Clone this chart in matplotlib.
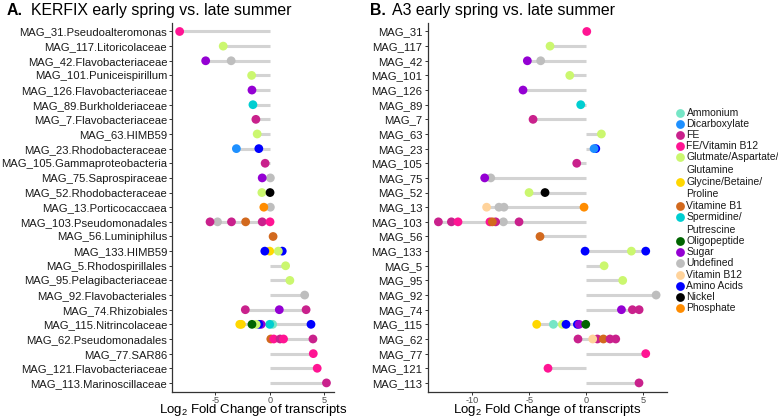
import matplotlib
matplotlib.use('Agg')
import matplotlib.pyplot as plt
import numpy as np

plt.rcParams['font.family'] = ['Liberation Sans', 'DejaVu Sans']
plt.rcParams['axes.unicode_minus'] = False
plt.rcParams['mathtext.fontset'] = 'custom'
plt.rcParams['mathtext.rm'] = 'Liberation Sans'
plt.rcParams['mathtext.it'] = 'Liberation Sans:italic'
plt.rcParams['mathtext.bf'] = 'Liberation Sans:bold'

# ---------------- data ----------------
mag_ids = ['MAG_31', 'MAG_117', 'MAG_42', 'MAG_101', 'MAG_126', 'MAG_89', 'MAG_7',
           'MAG_63', 'MAG_23', 'MAG_105', 'MAG_75', 'MAG_52', 'MAG_13', 'MAG_103',
           'MAG_56', 'MAG_133', 'MAG_5', 'MAG_95', 'MAG_92', 'MAG_74', 'MAG_115',
           'MAG_62', 'MAG_77', 'MAG_121', 'MAG_113']
a_taxa = ['Pseudoalteromonas', 'Litoricolaceae', 'Flavobacteriaceae', 'Puniceispirillum',
          'Flavobacteriaceae', 'Burkholderiaceae', 'Flavobacteriaceae', 'HIMB59',
          'Rhodobacteraceae', 'Gammaproteobacteria', 'Saprospiraceae', 'Rhodobacteraceae',
          'Porticocaccaea', 'Pseudomonadales', 'Luminiphilus', 'HIMB59', 'Rhodospirillales',
          'Pelagibacteriaceae', 'Flavobacteriales', 'Rhizobiales', 'Nitrincolaceae',
          'Pseudomonadales', 'SAR86', 'Flavobacteriaceae', 'Marinoscillaceae']

categories = ['Ammonium', 'Dicarboxylate', 'FE', 'FE/Vitamin B12',
              'Glutmate/Aspartate/\nGlutamine', 'Glycine/Betaine/\nProline', 'Vitamine B1',
              'Spermidine/\nPutrescine', 'Oligopeptide', 'Sugar', 'Undefined',
              'Vitamin B12', 'Amino Acids', 'Nickel', 'Phosphate']
cat_colors = ['#76E6C6', '#1E90FF', '#C9218C', '#FF1493', '#CBF76F', '#FFD700', '#D2691E',
              '#00CED1', '#006400', '#9400D3', '#BEBEBE', '#FFD39B', '#0000FF', '#000000',
              '#FF8C00']

GLU = 'Glutmate/Aspartate/\nGlutamine'
GLY = 'Glycine/Betaine/\nProline'
SPE = 'Spermidine/\nPutrescine'

a_pt_mag = ['MAG_31', 'MAG_117', 'MAG_42', 'MAG_42', 'MAG_101', 'MAG_126', 'MAG_89', 'MAG_7',
            'MAG_63', 'MAG_23', 'MAG_23', 'MAG_105', 'MAG_75', 'MAG_75', 'MAG_52', 'MAG_52',
            'MAG_13', 'MAG_13',
            'MAG_103', 'MAG_103', 'MAG_103', 'MAG_103', 'MAG_103', 'MAG_103',
            'MAG_56', 'MAG_133', 'MAG_133', 'MAG_133', 'MAG_133', 'MAG_5', 'MAG_95', 'MAG_92',
            'MAG_74', 'MAG_74', 'MAG_74',
            'MAG_115', 'MAG_115', 'MAG_115', 'MAG_115', 'MAG_115', 'MAG_115', 'MAG_115',
            'MAG_115', 'MAG_115',
            'MAG_62', 'MAG_62', 'MAG_62', 'MAG_62', 'MAG_62', 'MAG_77', 'MAG_121', 'MAG_113']
a_pt_val = [-8.27, -4.27, -3.54, -5.88, -1.66, -1.63, -1.54, -1.27,
            -1.15, -3.06, -1.00, -0.42, 0.06, -0.69, -0.72, 0.03,
            0.06, -0.54,
            -4.79, -5.48, -3.51, -2.21, -0.69, 0.03,
            0.31, 1.15, 0.00, -0.45, 0.79, 1.46, 1.85, 3.21,
            -2.24, 0.88, 3.34,
            3.79, 0.27, 0.00, -0.79, -1.00, -1.24, -1.63, -2.60, -2.75,
            0.10, 0.37, 0.95, 1.27, 3.97, 4.00, 4.36, 5.21]
a_pt_cat = ['FE/Vitamin B12', GLU, 'Undefined', 'Sugar', GLU, 'Sugar', SPE, 'FE',
            GLU, 'Dicarboxylate', 'Amino Acids', 'FE', 'Undefined', 'Sugar', GLU, 'Nickel',
            'Undefined', 'Phosphate',
            'Undefined', 'FE', 'FE', 'Vitamine B1', 'FE', 'FE/Vitamin B12',
            'Vitamine B1', 'Amino Acids', GLY, 'Amino Acids', GLU, GLU, GLU, 'Undefined',
            'FE', 'Sugar', 'FE',
            'Amino Acids', 'Ammonium', SPE, 'Sugar', 'Amino Acids', GLU, 'Oligopeptide', GLY, GLY,
            'Vitamine B1', 'FE/Vitamin B12', 'FE', 'FE/Vitamin B12', 'FE', 'FE/Vitamin B12',
            'FE/Vitamin B12', 'FE']

b_pt_mag = ['MAG_31', 'MAG_117', 'MAG_42', 'MAG_42', 'MAG_101', 'MAG_126', 'MAG_89', 'MAG_7',
            'MAG_63', 'MAG_23', 'MAG_23', 'MAG_105', 'MAG_75', 'MAG_75', 'MAG_52', 'MAG_52',
            'MAG_13', 'MAG_13', 'MAG_13', 'MAG_13',
            'MAG_103', 'MAG_103', 'MAG_103', 'MAG_103', 'MAG_103', 'MAG_103', 'MAG_103', 'MAG_103',
            'MAG_56', 'MAG_133', 'MAG_133', 'MAG_133', 'MAG_5', 'MAG_95', 'MAG_92',
            'MAG_74', 'MAG_74', 'MAG_74',
            'MAG_115', 'MAG_115', 'MAG_115', 'MAG_115', 'MAG_115', 'MAG_115', 'MAG_115',
            'MAG_62', 'MAG_62', 'MAG_62', 'MAG_62', 'MAG_62', 'MAG_62',
            'MAG_77', 'MAG_121', 'MAG_113']
b_pt_val = [0.03, -3.19, -4.01, -5.18, -1.46, -5.56, -0.50, -4.68,
            1.31, 0.82, 0.67, -0.85, -8.39, -8.92, -5.03, -3.63,
            -7.67, -7.23, -8.75, -0.21,
            -7.28, -12.98, -11.84, -11.26, -8.46, -7.96, -8.25, -5.91,
            -4.07, -0.12, 3.94, 5.20, 1.55, 3.18, 6.11,
            3.07, 4.03, 4.62,
            -4.36, -2.90, -2.11, -1.79, -0.79, -0.64, -0.06,
            -0.74, 0.96, 1.49, 0.55, 2.07, 2.57,
            5.20, -3.37, 4.61]
b_pt_cat = ['FE/Vitamin B12', GLU, 'Undefined', 'Sugar', GLU, 'Sugar', SPE, 'FE',
            GLU, 'Amino Acids', 'Dicarboxylate', 'FE', 'Undefined', 'Sugar', GLU, 'Nickel',
            'Undefined', 'Undefined', 'Vitamin B12', 'Phosphate',
            'Undefined', 'FE', 'FE', 'FE/Vitamin B12', 'FE/Vitamin B12', 'FE', 'Vitamine B1', 'FE',
            'Vitamine B1', 'Amino Acids', GLU, 'Amino Acids', GLU, GLU, 'Undefined',
            'Sugar', 'FE', 'FE',
            GLY, 'Ammonium', GLU, 'Amino Acids', 'Amino Acids', 'Sugar', 'Oligopeptide',
            'FE', 'FE', 'Vitamine B1', 'Vitamin B12', 'FE', 'FE',
            'FE/Vitamin B12', 'FE/Vitamin B12', 'FE']

# ---------------- figure ----------------
W, H = 778, 419
fig = plt.figure(figsize=(W / 100, H / 100), dpi=100)
color_of = dict(zip(categories, cat_colors))
n = len(mag_ids)
row_y = {m: n - i for i, m in enumerate(mag_ids)}


def px_axes(l, t, r, b):
    return fig.add_axes([l / W, 1 - b / H, (r - l) / W, (b - t) / H])


def lollipop(ax, pmag, pval, pcat, ylabels, xticks):
    pval = np.asarray(pval)
    for m in mag_ids:
        v = [val for mm, val in zip(pmag, pval) if mm == m]
        lo, hi = min(0, min(v)), max(0, max(v))
        ax.hlines(row_y[m], lo, hi, color='#D3D3D3', lw=2.2, zorder=1)
    ax.scatter(pval, [row_y[m] for m in pmag], c=[color_of[c] for c in pcat],
               s=40, linewidths=0, zorder=3)
    lo, hi = pval.min(), pval.max()
    pad = 0.05 * (hi - lo)
    ax.set_xlim(lo - pad, hi + pad)
    ax.set_ylim(0.4, n + 0.6)
    ax.set_yticks([row_y[m] for m in mag_ids])
    ax.set_yticklabels(ylabels, fontsize=8.1, color='#1a1a1a')
    ax.set_xticks(xticks)
    ax.set_xticklabels([str(t) for t in xticks], fontsize=6.6, color='#4d4d4d')
    for s in ['top', 'right']:
        ax.spines[s].set_visible(False)
    for s in ['left', 'bottom']:
        ax.spines[s].set_color('#333333')
        ax.spines[s].set_linewidth(0.9)
    ax.tick_params(axis='both', length=2.2, width=0.7, color='#333333')
    ax.tick_params(axis='x', pad=0.6)
    ax.tick_params(axis='y', pad=1.5)
    bb = ax.get_position()
    fig.text((bb.x0 + bb.x1) / 2, 1 - 413.2 / H, r'Log$_2$ Fold Change of transcripts',
             fontsize=9.5, ha='center', va='baseline')


axA = px_axes(172.3, 22.7, 333.8, 391.7)
lollipop(axA, a_pt_mag, a_pt_val, a_pt_cat,
         [f'{m}.{t}' for m, t in zip(mag_ids, a_taxa)], [-5, 0, 5])
axB = px_axes(427.5, 22.7, 667, 391.7)
lollipop(axB, b_pt_mag, b_pt_val, b_pt_cat, mag_ids, [-10, -5, 0, 5])

# titles
fig.text(7 / W, 1 - 15 / H, 'A.', fontsize=11.4, fontweight='bold', va='baseline')
fig.text(31.5 / W, 1 - 15 / H, 'KERFIX early spring vs. late summer', fontsize=11.4, va='baseline')
fig.text(370 / W, 1 - 15 / H, 'B.', fontsize=11.4, fontweight='bold', va='baseline')
fig.text(392.5 / W, 1 - 15 / H, 'A3 early spring vs. late summer', fontsize=11.4, va='baseline')

# legend (manual, to keep markers on the first text line)
lg = fig.add_axes([0, 0, 1, 1])
lg.set_xlim(0, W)
lg.set_ylim(H, 0)
lg.axis('off')
y = 112.7
for cat, col in zip(categories, cat_colors):
    lines = cat.split('\n')
    lg.scatter([680], [y], s=40, c=[col], linewidths=0)
    for k, line in enumerate(lines):
        lg.text(686.5, y + k * 12.8, line, fontsize=7.5, va='center', ha='left', color='#1a1a1a')
    y += 11.2 + 12.9 * (len(lines) - 1)

fig.savefig('out.png', dpi=100)
